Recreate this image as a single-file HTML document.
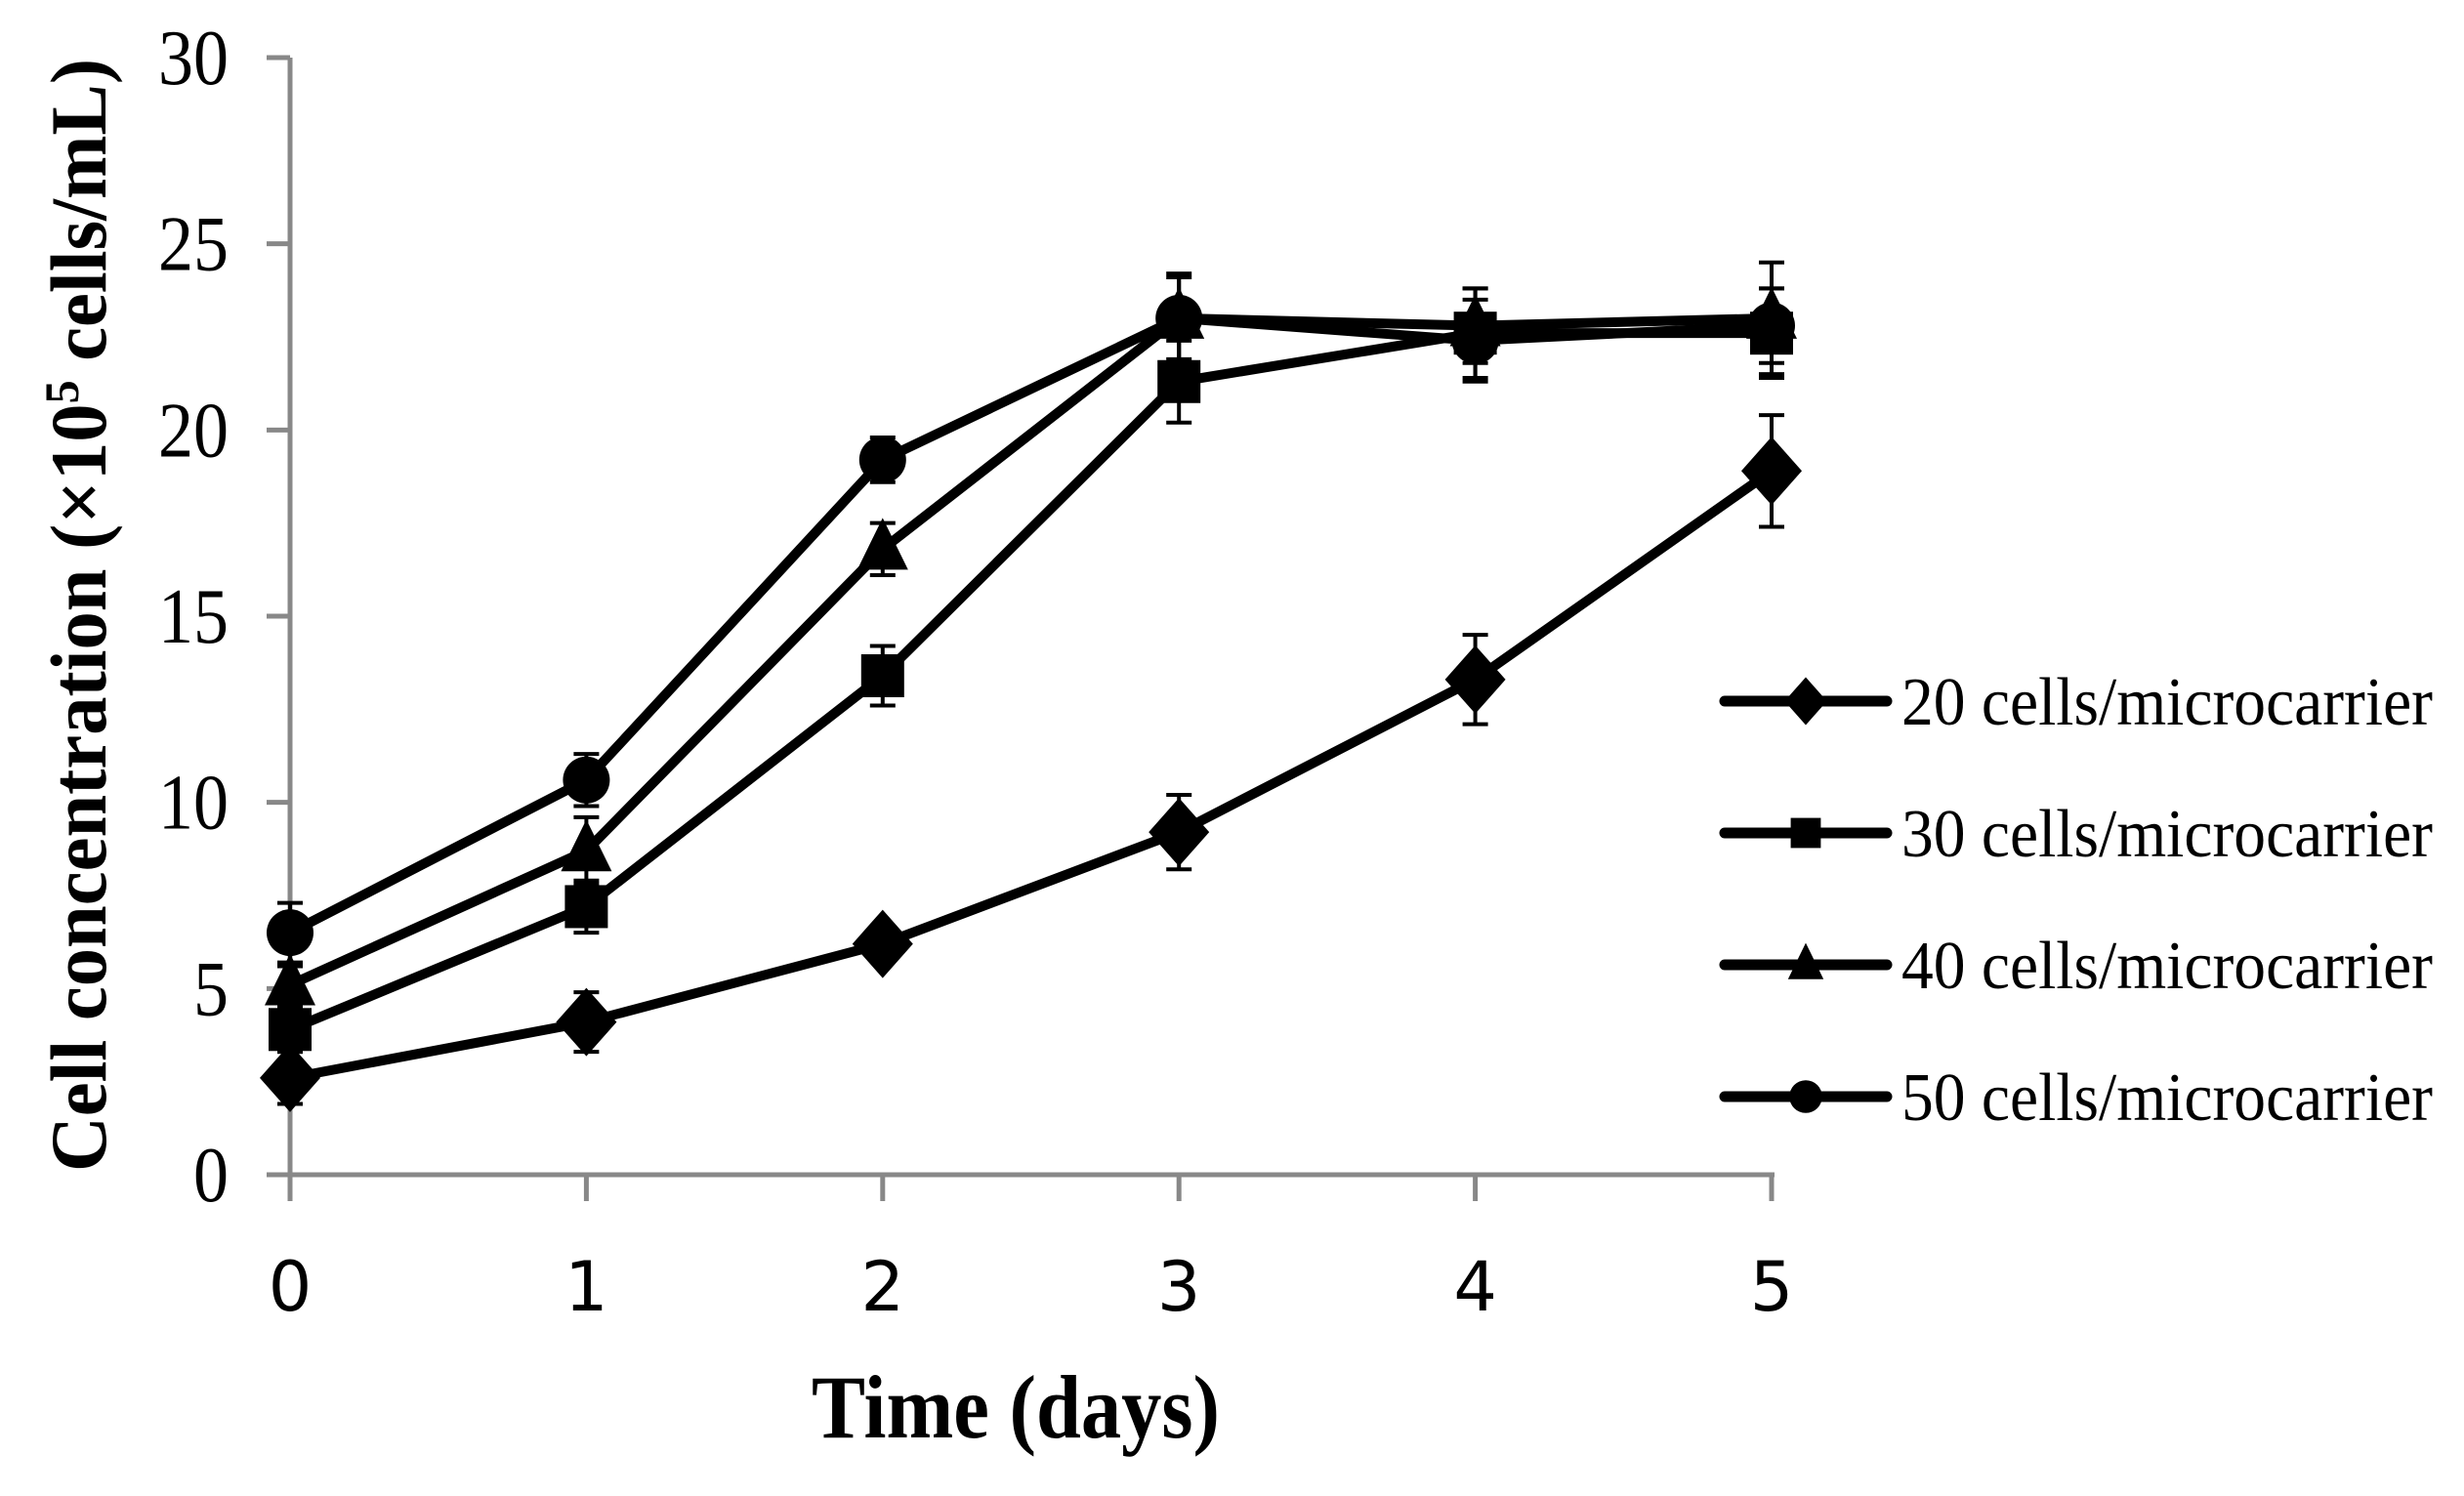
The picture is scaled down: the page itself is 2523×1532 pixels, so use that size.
<!DOCTYPE html>
<html><head><meta charset="utf-8"><style>
html,body{margin:0;padding:0;background:#fff;}
svg{display:block;}
</style></head><body>
<svg id="chart" width="2523" height="1532" viewBox="0 0 2523 1532" xmlns="http://www.w3.org/2000/svg">
<g id="axes"></g>
<g id="series"></g>
<g id="legend"></g>
<text x="1040" y="1472" font-family="Liberation Serif, serif" font-weight="bold" font-size="92" text-anchor="middle" textLength="418" lengthAdjust="spacingAndGlyphs">Time (days)</text>
<text transform="translate(108,630) rotate(-90)" font-family="Liberation Serif, serif" font-weight="bold" font-size="82" text-anchor="middle" textLength="1140" lengthAdjust="spacingAndGlyphs">Cell  concentration (×10<tspan baseline-shift="super" font-size="50">5</tspan> cells/mL)</text>
</svg>
<script>
const days = [0,1,2,3,4,5];
const yTicks = [0,5,10,15,20,25,30];
const seriesNames = ["20 cells/microcarrier","30 cells/microcarrier","40 cells/microcarrier","50 cells/microcarrier"];
const markers = ["diamond","square","triangle","circle"];
const s20 = [2.6,4.1,6.2,9.2,13.3,18.9];
const s30 = [3.9,7.2,13.4,21.3,22.6,22.6];
const s40 = [5.1,8.7,16.8,23.0,22.8,23.0];
const s50 = [6.5,10.6,19.2,23.0,22.4,22.8];
const e20 = [0.7,0.8,0.4,1.0,1.2,1.5];
const e30 = [0.6,0.7,0.8,1.1,1.2,1.2];
const e40 = [0.5,0.9,0.7,1.1,1.0,1.5];
const e50 = [0.8,0.7,0.6,1.2,1.1,1.0];

const NS="http://www.w3.org/2000/svg";
const X0=297, DX=303.4, Y0=1203, YTOP=59;
const xs=d=>X0+d*DX;
const ys=v=>Y0-v*(Y0-YTOP)/30;
function mk(tag,attrs,parent){const e=document.createElementNS(NS,tag);for(const k in attrs)e.setAttribute(k,attrs[k]);parent.appendChild(e);return e;}
const axes=document.getElementById('axes');
const AX="#888";
let l=mk('line',{x1:X0,y1:YTOP,x2:X0,y2:Y0+27,stroke:AX,'stroke-width':5},axes);


l=mk('line',{x1:X0-24,y1:Y0,x2:xs(5)+3,y2:Y0,stroke:AX,'stroke-width':5},axes);


yTicks.forEach(v=>{
  const t=mk('line',{x1:X0-24,y1:ys(v),x2:X0,y2:ys(v),stroke:AX,'stroke-width':5},axes);
  
  
  const tx=mk('text',{x:234,y:ys(v)+27,'font-family':'Liberation Serif, serif','font-size':80,'text-anchor':'end',textLength:String(v).length*36,lengthAdjust:'spacingAndGlyphs'},axes);
  
  
  tx.textContent=v;
});
days.forEach(d=>{
  const t=mk('line',{x1:xs(d),y1:Y0,x2:xs(d),y2:Y0+27,stroke:AX,'stroke-width':5},axes);
  
  
  const tx=mk('text',{x:xs(d),y:1342,'font-family':'DejaVu Sans, sans-serif','font-size':70,'text-anchor':'middle'},axes);
  
  
  tx.textContent=d;
});
function marker(type,x,y,parent,sc){
  sc=sc||1;let e;
  if(type==="diamond") e=mk('polygon',{points:`${x},${y-35*sc} ${x+31*sc},${y} ${x},${y+35*sc} ${x-31*sc},${y}`,fill:'#000'},parent);
  else if(type==="square") e=mk('rect',{x:x-22*sc,y:y-22*sc,width:44*sc,height:44*sc,fill:'#000'},parent);
  else if(type==="triangle") e=mk('polygon',{points:`${x},${y-32*sc} ${x+26*sc},${y+21*sc} ${x-26*sc},${y+21*sc}`,fill:'#000'},parent);
  else e=mk('circle',{cx:x,cy:y,r:24*sc,fill:'#000'},parent);
  return e;
}
const serG=document.getElementById('series');
const allS=[s20,s30,s40,s50], allE=[e20,e30,e40,e50];
allS.forEach((s,i)=>{
  const g=mk('g',{},serG);
  
  
  s.forEach((v,j)=>{
    const x=xs(days[j]),e=allE[i][j];
    const eb=mk('path',{d:`M${x},${ys(v+e)}V${ys(v-e)}M${x-13},${ys(v+e)}H${x+13}M${x-13},${ys(v-e)}H${x+13}`,stroke:'#000','stroke-width':4,fill:'none'},g);
    
    
  });
  const ln=mk('polyline',{points:s.map((v,j)=>xs(days[j])+','+ys(v)).join(' '),fill:'none',stroke:'#000','stroke-width':10,'stroke-linejoin':'round','stroke-linecap':'round'},g);
  
  
  s.forEach((v,j)=>{
    const m=marker(markers[i],xs(days[j]),ys(v),g);
    
    
  });
});
const leg=document.getElementById('legend');
const legY=[718,853,988,1123];
seriesNames.forEach((n,i)=>{
  const g=mk('g',{},leg);
  
  
  mk('line',{x1:1766,y1:legY[i],x2:1932,y2:legY[i],stroke:'#000','stroke-width':11,'stroke-linecap':'round'},g);
  marker(markers[i],1849,legY[i],g,0.7);
  const t=mk('text',{x:1947,y:legY[i]+24,'font-family':'Liberation Serif, serif','font-size':70,textLength:544,lengthAdjust:'spacingAndGlyphs'},g);
  
  
  t.textContent=n;
});
</script>
</body></html>
